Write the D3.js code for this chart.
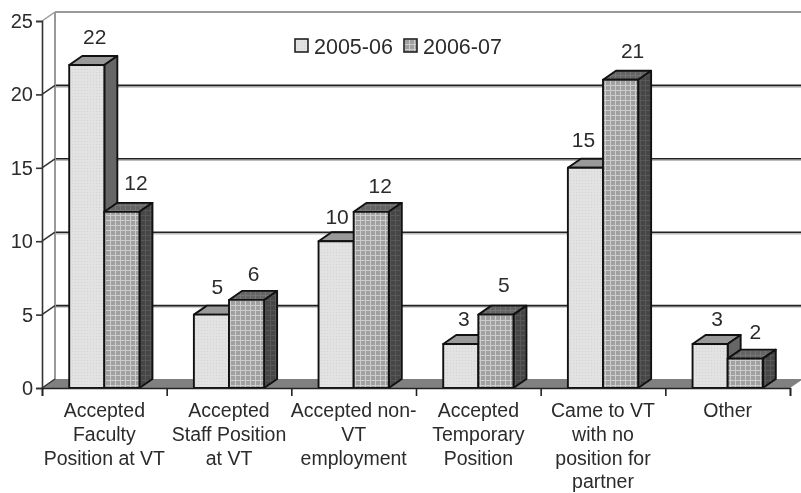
<!DOCTYPE html>
<html>
<head>
<meta charset="utf-8">
<script src="https://d3js.org/d3.v7.min.js"></script>
<style>
  html, body { margin: 0; padding: 0; background: #fff; overflow: hidden; }
  svg { display: block; filter: blur(0.55px); }
  text { font-family: "Liberation Sans", Arial, sans-serif; fill: #2b2b2b; }
</style>
</head>
<body>
<div id="container"></div>
<script>
/* DATA */
const categories = [
  "Accepted Faculty Position at VT",
  "Accepted Staff Position at VT",
  "Accepted non-VT employment",
  "Accepted Temporary Position",
  "Came to VT with no position for partner",
  "Other"
];
const tickLines = [
  ["Accepted", "Faculty", "Position at VT"],
  ["Accepted", "Staff Position", "at VT"],
  ["Accepted non-", "VT", "employment"],
  ["Accepted", "Temporary", "Position"],
  ["Came to VT", "with no", "position for", "partner"],
  ["Other"]
];
const seriesNames = ["2005-06", "2006-07"];
const values0506 = [22, 5, 10, 3, 15, 3];
const values0607 = [12, 6, 12, 5, 21, 2];
const yTicks = [0, 5, 10, 15, 20, 25];

/* CONSTANTS */
const width = 801;
const height = 493;
const plotLeft = 42, plotRight = 790, plotTop = 21, plotBottom = 388;
const depthX = 13, depthY = 9;

const svg = d3.select("#container").append("svg")
  .attr("width", width)
  .attr("height", height);

/* PATTERNS */
const defs = svg.append("defs");

function dotPattern(id, base, dot) {
  const p = defs.append("pattern").attr("id", id)
    .attr("width", 3).attr("height", 3)
    .attr("patternUnits", "userSpaceOnUse");
  p.append("rect").attr("width", 3).attr("height", 3).attr("fill", base);
  p.append("rect").attr("width", 1).attr("height", 1).attr("fill", dot);
}
function gridPattern(id, base, line) {
  const p = defs.append("pattern").attr("id", id)
    .attr("width", 5).attr("height", 5)
    .attr("patternUnits", "userSpaceOnUse");
  p.append("rect").attr("width", 5).attr("height", 5).attr("fill", base);
  p.append("rect").attr("width", 1).attr("height", 5).attr("fill", line);
  p.append("rect").attr("width", 5).attr("height", 1).attr("fill", line);
}
dotPattern("front0", "#e2e2e2", "#d4d4d4");
gridPattern("front1", "#a0a0a0", "#cdcdcd");
gridPattern("top1", "#646464", "#767676");
gridPattern("side1", "#464646", "#585858");

/* SCALES */
const xEdge = d3.scaleLinear().domain([0, categories.length]).range([plotLeft, plotRight]);
const xBand = d3.scaleBand().domain(categories).range([plotLeft, plotRight]);
const xSeries = d3.scaleBand().domain(seriesNames)
  .range([0, xBand.bandwidth()])
  .paddingInner(0)
  .paddingOuter(0.775);
const yScale = d3.scaleLinear().domain([0, 25]).range([plotBottom, plotTop]);

/* WALL AND FLOOR */
svg.append("polygon")
  .attr("points", [[plotLeft, plotBottom], [plotRight, plotBottom], [plotRight + depthX, plotBottom - depthY], [plotLeft + depthX, plotBottom - depthY]].join(" "))
  .attr("fill", "#808080");

svg.append("g").selectAll("line.shadow")
  .data(yTicks.filter(d => d > 0 && d < 25))
  .join("line")
  .attr("x1", plotLeft + depthX)
  .attr("x2", plotRight + depthX)
  .attr("y1", d => yScale(d) - depthY + 1.5)
  .attr("y2", d => yScale(d) - depthY + 1.5)
  .attr("stroke", "#bbb")
  .attr("stroke-width", 1.5);

svg.append("g").selectAll("line.grid")
  .data(yTicks.filter(d => d > 0))
  .join("line")
  .attr("x1", plotLeft + depthX)
  .attr("x2", plotRight + depthX)
  .attr("y1", d => yScale(d) - depthY)
  .attr("y2", d => yScale(d) - depthY)
  .attr("stroke", d => d === 25 ? "#999" : "#222")
  .attr("stroke-width", d => d === 25 ? 2 : 1.6);

svg.append("line")
  .attr("x1", plotLeft + depthX).attr("x2", plotLeft + depthX)
  .attr("y1", yScale(25) - depthY).attr("y2", plotBottom - depthY)
  .attr("stroke", "#999").attr("stroke-width", 2);

svg.append("g").selectAll("line.diag")
  .data(yTicks)
  .join("line")
  .attr("x1", plotLeft)
  .attr("y1", d => yScale(d))
  .attr("x2", plotLeft + depthX)
  .attr("y2", d => yScale(d) - depthY)
  .attr("stroke", d => d === 25 ? "#999" : "#333")
  .attr("stroke-width", 1.5);

/* BARS */
const rows = categories.flatMap((c, i) => [
  { category: c, series: 0, name: seriesNames[0], value: values0506[i] },
  { category: c, series: 1, name: seriesNames[1], value: values0607[i] }
]);
const xBar = d => xBand(d.category) + xSeries(d.name);
const bw = xSeries.bandwidth();

const bars = svg.append("g").selectAll("g.bar")
  .data(rows)
  .join("g")
  .attr("class", "bar")
  .attr("stroke", "#111")
  .attr("stroke-width", 1.9)
  .attr("stroke-linejoin", "round");

bars.append("polygon")
  .attr("points", d => {
    const x = xBar(d), y = yScale(d.value);
    return [[x, y], [x + bw, y], [x + bw + depthX, y - depthY], [x + depthX, y - depthY]].join(" ");
  })
  .attr("fill", d => d.series ? "url(#top1)" : "#999");

bars.append("polygon")
  .attr("points", d => {
    const x = xBar(d) + bw, y = yScale(d.value);
    return [[x, y], [x, plotBottom], [x + depthX, plotBottom - depthY], [x + depthX, y - depthY]].join(" ");
  })
  .attr("fill", d => d.series ? "url(#side1)" : "#666");

bars.append("rect")
  .attr("x", xBar)
  .attr("y", d => yScale(d.value))
  .attr("width", bw)
  .attr("height", d => plotBottom - yScale(d.value))
  .attr("fill", d => d.series ? "url(#front1)" : "url(#front0)");

/* DATA LABELS */
// the original labels sit a little off centre, nudged per label (dx, dy) in row order
const labelNudge = [[2, -1], [8, -2], [0, -1], [1, 1], [-5, 3], [3, 1], [-3, 2], [2, -3], [-8, -1], [6, -2], [1, 2], [4, 0]];
svg.append("g").selectAll("text.value")
  .data(rows)
  .join("text")
  .attr("class", "value")
  .attr("x", (d, i) => xBar(d) + bw / 2 + 6 + labelNudge[i][0])
  .attr("y", (d, i) => yScale(d.value) - 20 + labelNudge[i][1])
  .attr("text-anchor", "middle")
  .attr("font-size", 21)
  .text(d => d.value);

/* AXES */
const yAxis = d3.axisLeft(yScale).tickValues(yTicks).tickSize(6).tickPadding(3);
const yG = svg.append("g")
  .attr("transform", `translate(${plotLeft},0)`)
  .call(yAxis);
yG.selectAll("text").attr("font-size", 20).attr("font-family", null);
yG.selectAll("line, path").attr("stroke", "#333").attr("stroke-width", 1.6);

const edgeAxis = d3.axisBottom(xEdge).ticks(categories.length).tickSize(8).tickFormat("");
const edgeG = svg.append("g")
  .attr("transform", `translate(0,${plotBottom})`)
  .call(edgeAxis);
edgeG.selectAll("line, path").attr("stroke", "#222").attr("stroke-width", 1.6);

const labelAxis = d3.axisBottom(xBand).tickSize(0).tickFormat("");
const labelG = svg.append("g")
  .attr("transform", `translate(0,${plotBottom})`)
  .call(labelAxis);
labelG.select("path").remove();
labelG.selectAll(".tick text")
  .attr("font-size", 19.5)
  .attr("font-family", null)
  .attr("y", 0)
  .attr("dy", null)
  .each(function (d, i) {
    d3.select(this).selectAll("tspan")
      .data(tickLines[i])
      .join("tspan")
      .attr("x", 0)
      .attr("y", (l, j) => 29 + j * 23.8)
      .text(l => l);
  });

/* LEGEND */
const legendX = d3.scaleOrdinal().domain(seriesNames).range([295, 404]);
const legend = svg.append("g").selectAll("g.legend")
  .data(seriesNames)
  .join("g")
  .attr("class", "legend")
  .attr("transform", d => `translate(${legendX(d)},39)`);
legend.append("rect")
  .attr("width", 13).attr("height", 13)
  .attr("stroke", "#222").attr("stroke-width", 1.6)
  .attr("fill", (d, i) => `url(#front${i})`);
legend.append("text")
  .attr("x", 19)
  .attr("y", 14.5)
  .attr("font-size", 21.5)
  .text(d => d);
</script>
</body>
</html>
